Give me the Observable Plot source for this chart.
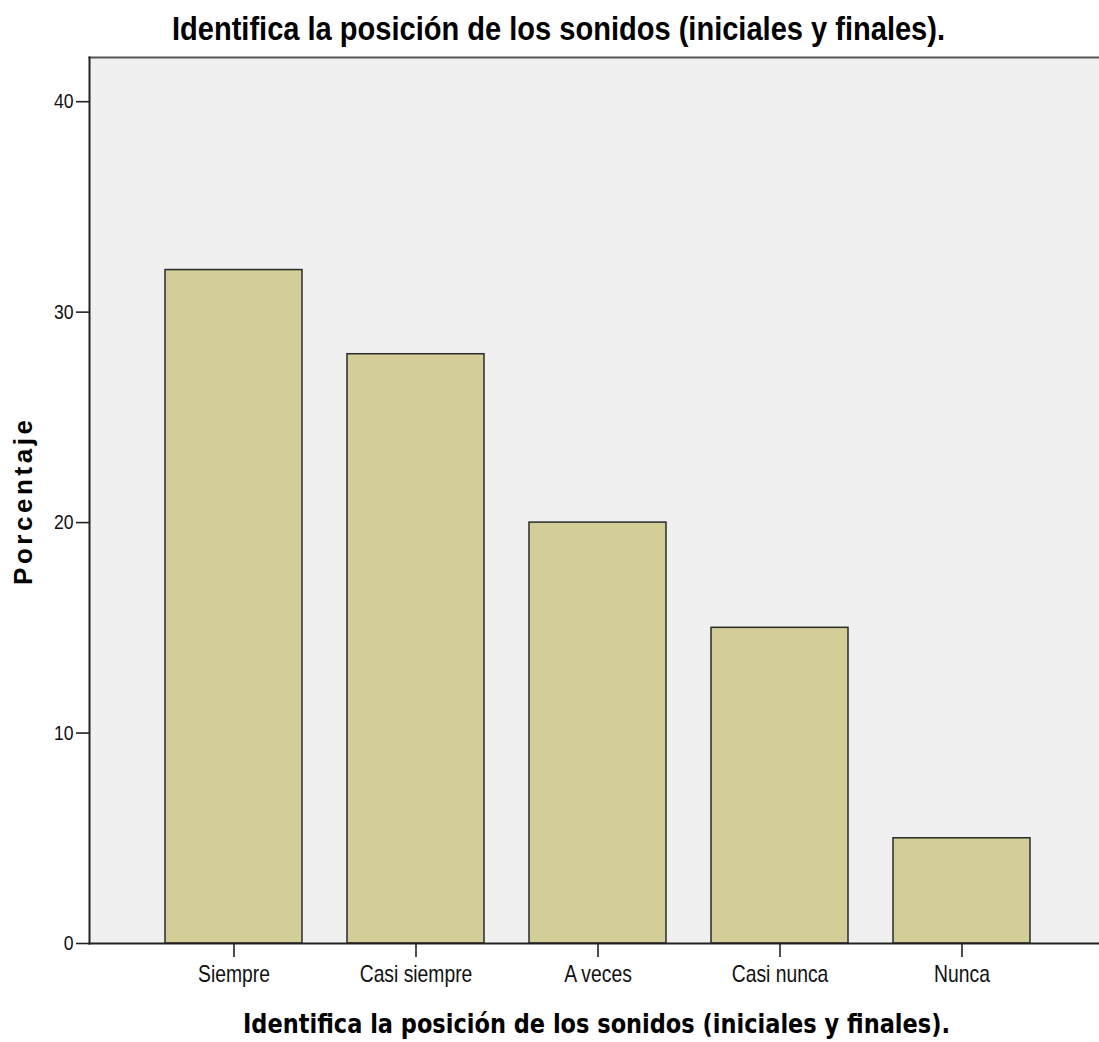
<!DOCTYPE html>
<html><head><meta charset="utf-8">
<script src="https://cdn.jsdelivr.net/npm/d3@7"></script>
<script src="https://cdn.jsdelivr.net/npm/@observablehq/plot@0.6"></script>
<style>body{margin:0;background:#fff}</style>
</head><body><div id="chart"></div>
<script>
const categories = ["Siempre", "Casi siempre", "A veces", "Casi nunca", "Nunca"];
const percentages = [32, 28, 20, 15, 5];
const yTicks = [0, 10, 20, 30, 40];
const chartTitle = "Identifica la posición de los sonidos (iniciales y finales).";
const xTitle = "Identifica la posición de los sonidos (iniciales y finales).";
const yTitle = "Porcentaje";

const data = categories.map((c, i) => ({category: c, value: percentages[i]}));

const plot = Plot.plot({
  width: 1099, height: 1042,
  marginTop: 57, marginBottom: 99, marginLeft: 89, marginRight: 0,
  style: {fontFamily: "'Liberation Sans', Arial, sans-serif", background: "#fff", color: "#000"},
  x: {domain: categories, paddingInner: 0.25, paddingOuter: 0.385, align: 0.52, label: null},
  y: {domain: [0, 42.1], label: null},
  marks: [
    Plot.frame({fill: "#f0f0f0", stroke: "none"}),
    Plot.frame({anchor: "top", stroke: "#555", strokeWidth: 2}),
    Plot.barY(data, {x: "category", y: "value", fill: "#d3cd97", stroke: "#2a2a2a", strokeWidth: 1.5}),
    Plot.axisY({ticks: yTicks, tickSize: 13, tickPadding: 3, fontSize: 21, label: null, strokeWidth: 1.6, stroke: "#222"}),
    Plot.axisX({tickSize: 14, tickPadding: 8, fontSize: 23, label: null, strokeWidth: 1.6, stroke: "#222"}),
    Plot.frame({anchor: "left", stroke: "#222", strokeWidth: 2}),
    Plot.frame({anchor: "bottom", stroke: "#222", strokeWidth: 2})
  ]
});

const svg = d3.select(plot);
// narrow the tick labels (condensed look of the original)
svg.selectAll('g[aria-label="x-axis tick label"] text, g[aria-label="y-axis tick label"] text')
  .attr("transform", function() {
    const t = this.getAttribute("transform") || "";
    return t + " scale(0.84,1)";
  })
  .attr("fill", "#111");

svg.append("text")
  .attr("x", 558.5).attr("y", 40)
  .attr("text-anchor", "middle")
  .attr("font-family", "'Liberation Sans', Arial, sans-serif")
  .attr("font-weight", "bold").attr("font-size", 34)
  .attr("textLength", 773).attr("lengthAdjust", "spacingAndGlyphs")
  .attr("fill", "#000")
  .text(chartTitle);
svg.append("text")
  .attr("x", 596.5).attr("y", 1033)
  .attr("text-anchor", "middle")
  .attr("font-family", "'DejaVu Sans', sans-serif")
  .attr("font-weight", "bold").attr("font-size", 26)
  .attr("textLength", 707).attr("lengthAdjust", "spacingAndGlyphs")
  .attr("fill", "#000")
  .text(xTitle);
svg.append("text")
  .attr("transform", "translate(32,502.5) rotate(-90)")
  .attr("text-anchor", "middle")
  .attr("font-family", "'Liberation Sans', Arial, sans-serif")
  .attr("font-weight", "bold").attr("font-size", 26)
  .attr("textLength", 165).attr("lengthAdjust", "spacing")
  .attr("fill", "#000")
  .text(yTitle);

document.getElementById("chart").appendChild(plot);
</script>
</body></html>
